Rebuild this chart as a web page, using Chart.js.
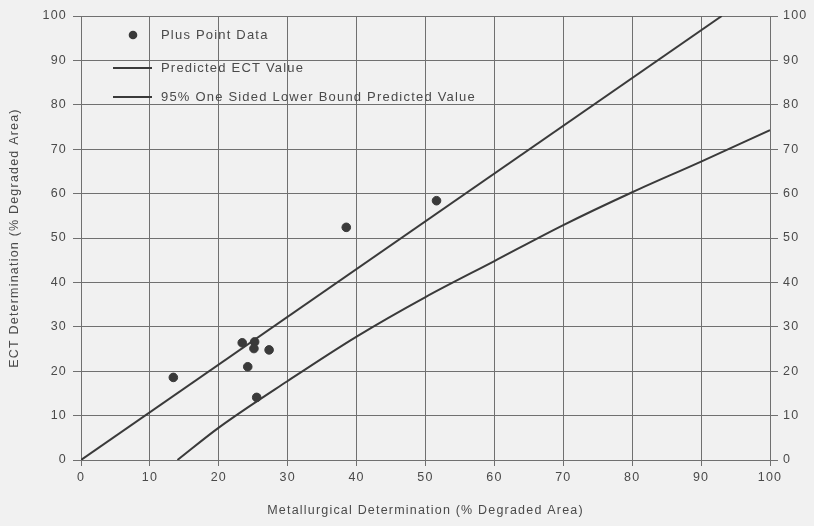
<!DOCTYPE html>
<html>
<head>
<meta charset="utf-8">
<script src="https://cdn.jsdelivr.net/npm/chart.js@4"></script>
<style>
  html, body { margin: 0; padding: 0; background: #f1f1f1; }
  #wrap { width: 814px; height: 526px; }
</style>
</head>
<body>
<div id="wrap"><canvas id="myChart" width="814" height="526"></canvas></div>
<script>
// plus point measurements (metallurgical %, ECT %)
const pointX = [13.4, 23.4, 25.2, 25.1, 27.3, 24.2, 25.5, 38.5, 51.6];
const pointY = [18.6, 26.4, 26.6, 25.1, 24.8, 21.0, 14.1, 52.4, 58.4];

// predicted ECT value line
const predX = [0, 93];
const predY = [0, 100];

// 95% one sided lower bound
const boundX = [14, 20, 30, 40, 50, 60, 70, 80, 90, 100];
const boundY = [0, 7.3, 17.8, 27.8, 36.7, 44.8, 52.9, 60.3, 67.2, 74.3];

const tickValues = [0, 10, 20, 30, 40, 50, 60, 70, 80, 90, 100];
const legendLabels = [
  "Plus Point Data",
  "Predicted ECT Value",
  "95% One Sided Lower Bound Predicted Value",
];

const ink = "#3a3a3a";
const gridColor = "#707070";
const textColor = "#4a4a4a";
const font = { family: "'Liberation Sans', Arial, sans-serif", size: 12.5 };

const toXY = (xs, ys) => xs.map((x, i) => ({ x: x, y: ys[i] }));

const bgPlugin = {
  id: "bg",
  beforeDraw(chart) {
    const c = chart.ctx;
    c.save();
    c.fillStyle = "#f1f1f1";
    c.fillRect(0, 0, chart.width, chart.height);
    c.restore();
    c.letterSpacing = "1.2px";
  },
};

const legendPlugin = {
  id: "insideLegend",
  afterDraw(chart) {
    const c = chart.ctx;
    c.save();
    c.font = "13px " + font.family;
    c.textBaseline = "middle";
    // scatter marker
    c.beginPath();
    c.arc(133, 35, 4.3, 0, Math.PI * 2);
    c.fillStyle = ink;
    c.fill();
    c.fillStyle = textColor;
    c.fillText(legendLabels[0], 161, 35);
    // line markers
    c.strokeStyle = ink;
    c.lineWidth = 2;
    [68, 97].forEach((y, i) => {
      c.beginPath();
      c.moveTo(113, y);
      c.lineTo(152, y);
      c.stroke();
      c.fillText(legendLabels[i + 1], 161, y);
    });
    c.restore();
  },
};

const ctx = document.getElementById("myChart");

new Chart(ctx, {
  type: "scatter",
  data: {
    datasets: [
      {
        label: legendLabels[0],
        data: toXY(pointX, pointY),
        pointRadius: 4.3,
        pointBackgroundColor: ink,
        pointBorderColor: ink,
        showLine: false,
      },
      {
        label: legendLabels[1],
        data: toXY(predX, predY),
        showLine: true,
        borderColor: ink,
        borderWidth: 2,
        pointRadius: 0,
      },
      {
        label: legendLabels[2],
        data: toXY(boundX, boundY),
        showLine: true,
        borderColor: ink,
        borderWidth: 2,
        pointRadius: 0,
        cubicInterpolationMode: "monotone",
      },
    ],
  },
  options: {
    responsive: false,
    animation: false,
    layout: { padding: { top: 16, right: 0, bottom: 0, left: 0 } },
    plugins: {
      legend: { display: false },
      tooltip: { enabled: false },
    },
    scales: {
      x: {
        type: "linear",
        min: 0,
        max: 100,
        afterBuildTicks: (s) => { s.ticks = tickValues.map((v) => ({ value: v })); },
        afterFit: (s) => { s.height = 66; },
        ticks: { color: textColor, font: font, padding: 4, maxRotation: 0 },
        grid: { color: gridColor, lineWidth: 1, tickLength: 6 },
        border: { color: gridColor },
        title: {
          display: true,
          text: "Metallurgical Determination (% Degraded Area)",
          color: textColor,
          font: font,
          padding: { top: 4, bottom: 8 },
        },
      },
      y: {
        type: "linear",
        position: "left",
        min: 0,
        max: 100,
        afterBuildTicks: (s) => { s.ticks = tickValues.map((v) => ({ value: v })); },
        afterFit: (s) => { s.width = 81; },
        ticks: { color: textColor, font: font, padding: 6 },
        grid: { color: gridColor, lineWidth: 1, tickLength: 8 },
        border: { color: gridColor },
        title: {
          display: true,
          text: "ECT Determination (% Degraded Area)",
          color: textColor,
          font: { family: font.family, size: 12.5 },
          padding: { top: 7, bottom: 0 },
        },
      },
      y2: {
        type: "linear",
        position: "right",
        min: 0,
        max: 100,
        afterBuildTicks: (s) => { s.ticks = tickValues.map((v) => ({ value: v })); },
        afterFit: (s) => { s.width = 44; },
        ticks: { color: textColor, font: font, padding: 5 },
        grid: { color: gridColor, lineWidth: 1, tickLength: 8, drawOnChartArea: false },
        border: { color: gridColor },
      },
    },
  },
  plugins: [bgPlugin, legendPlugin],
});
</script>
</body>
</html>
